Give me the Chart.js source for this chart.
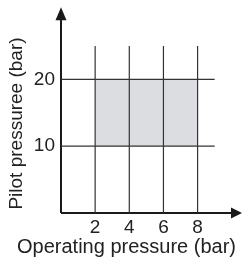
<!DOCTYPE html>
<html>
<head>
<meta charset="utf-8">
<title>Pilot pressure vs operating pressure</title>
<script src="https://cdn.jsdelivr.net/npm/chart.js@4/dist/chart.umd.min.js"></script>
<style>
  html, body { margin: 0; padding: 0; background: #fff; }
  #wrap { width: 243px; height: 259px; }
</style>
</head>
<body>
<div id="wrap"><canvas id="chart"></canvas></div>
<script>
'use strict'

// grid lines / ticks
const opTicks = [2, 4, 6, 8]          // operating pressure (bar)
const pilotTicks = [10, 20]           // pilot pressure (bar)
// shaded working range
const opRange = [2, 8]
const pilotRange = [10, 20]
// how far the grid lines run
const gridTopPilot = 25
const gridRightOp = 9
// axis arrow tips
const axisEndOp = 10.6
const axisEndPilot = 30.8

const lineColor = '#333'
const axisColor = '#1a1a1a'
const textColor = '#222'

const datasets = []

// vertical grid lines
opTicks.forEach(function (v) {
    datasets.push({
        data: [{x: v, y: 0}, {x: v, y: gridTopPilot}],
        borderColor: lineColor, borderWidth: 1.2, pointRadius: 0, clip: false
    })
})
// horizontal grid lines
pilotTicks.forEach(function (v) {
    datasets.push({
        data: [{x: 0, y: v}, {x: gridRightOp, y: v}],
        borderColor: lineColor, borderWidth: 1.2, pointRadius: 0, clip: false
    })
})
// axes
datasets.push({
    data: [{x: 0, y: 0}, {x: 0, y: axisEndPilot - 1}],
    borderColor: axisColor, borderWidth: 2, pointRadius: 0, clip: false
})
datasets.push({
    data: [{x: 0, y: 0}, {x: axisEndOp - 0.3, y: 0}],
    borderColor: axisColor, borderWidth: 2, pointRadius: 0, clip: false
})
// shaded range (last = drawn first)
datasets.push({
    data: [{x: opRange[0], y: pilotRange[1]}, {x: opRange[1], y: pilotRange[1]}],
    borderWidth: 0, pointRadius: 0, borderColor: 'rgba(0,0,0,0)',
    backgroundColor: '#dcdde0',
    fill: {value: pilotRange[0]}
})

// arrow heads at the axis ends
const axisArrows = {
    id: 'axisArrows',
    afterDatasetsDraw: function (chart) {
        const ctx = chart.ctx
        const sx = chart.scales.x, sy = chart.scales.y
        const x0 = sx.getPixelForValue(0), y0 = sy.getPixelForValue(0)
        const tipY = sy.getPixelForValue(axisEndPilot)
        const tipX = sx.getPixelForValue(axisEndOp)
        ctx.save()
        ctx.fillStyle = axisColor
        ctx.beginPath()
        ctx.moveTo(x0, tipY)
        ctx.lineTo(x0 + 5.5, tipY + 13)
        ctx.lineTo(x0 - 5.5, tipY + 13)
        ctx.closePath()
        ctx.fill()
        ctx.beginPath()
        ctx.moveTo(tipX, y0)
        ctx.lineTo(tipX - 11, y0 - 5.5)
        ctx.lineTo(tipX - 11, y0 + 5.5)
        ctx.closePath()
        ctx.fill()
        ctx.restore()
    }
}

const font = {family: 'Liberation Sans, Arial, sans-serif', size: 19}

new Chart(document.getElementById('chart'), {
    type: 'scatter',
    data: {datasets: datasets},
    plugins: [axisArrows],
    options: {
        responsive: true,
        maintainAspectRatio: false,
        animation: false,
        showLine: true,
        layout: {padding: {top: 34, right: 7, left: 0, bottom: 0}},
        plugins: {
            legend: {display: false},
            tooltip: {enabled: false},
            filler: {drawTime: 'beforeDatasetsDraw'},
            // x axis title, as the chart title so it may run past the plot's left edge
            title: {
                display: true,
                position: 'bottom',
                align: 'end',
                text: 'Operating pressure (bar)',
                font: {family: font.family, size: 20, weight: 'normal'},
                color: textColor,
                padding: {top: 0, bottom: 0}
            }
        },
        scales: {
            x: {
                type: 'linear',
                min: 0,
                max: 10.25,
                afterBuildTicks: function (s) { s.ticks = opTicks.map(v => ({value: v})) },
                afterFit: function (s) { s.height = 22 },
                grid: {display: false, drawTicks: false},
                border: {display: false},
                ticks: {font: font, color: textColor, padding: 3, maxRotation: 0}
            },
            y: {
                type: 'linear',
                min: 0,
                max: 26.8,
                afterBuildTicks: function (s) { s.ticks = pilotTicks.map(v => ({value: v})) },
                afterFit: function (s) { s.width = 61 },
                grid: {display: false, drawTicks: false},
                border: {display: false},
                ticks: {font: font, color: textColor, padding: 6},
                title: {display: true, text: 'Pilot pressuree (bar)', font: font, color: textColor, padding: {top: 5, bottom: 0}}
            }
        }
    }
})
</script>
</body>
</html>
